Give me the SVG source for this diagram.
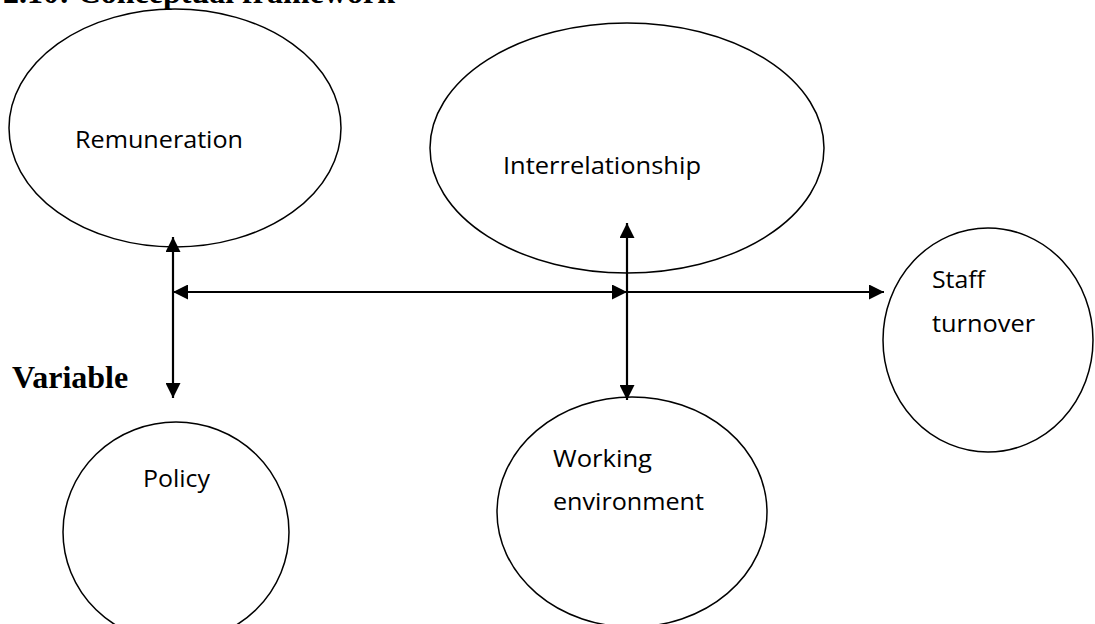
<svg xmlns="http://www.w3.org/2000/svg" width="1095" height="624" viewBox="0 0 1095 624">
<style>
.node{fill:none;stroke:#000;stroke-width:1.5}
.lbl{font-family:"Open Sans","Liberation Sans",Arial,sans-serif;font-size:23px;fill:#000}
.hd{font-family:"Liberation Serif","Times New Roman",serif;font-size:32px;font-weight:bold;fill:#000}
.conn{stroke:#000;stroke-width:2.2;fill:none}
</style>
<defs>
<marker id="ah" viewBox="0 0 10 10" refX="10" refY="5" markerWidth="15" markerHeight="15" markerUnits="userSpaceOnUse" orient="auto-start-reverse">
<path d="M0,0 L10,5 L0,10 Z" fill="#000"/>
</marker>
</defs>
<rect width="1095" height="624" fill="#fff"/>
<text class="hd" x="3" y="3">2.10: Conceptual framework</text>
<text class="hd" x="12" y="388">Variable</text>
<g id="remuneration">
<ellipse class="node" cx="175" cy="128" rx="166" ry="119"/>
<text class="lbl" x="75" y="148" textLength="168" lengthAdjust="spacingAndGlyphs">Remuneration</text>
</g>
<g id="interrelationship">
<ellipse class="node" cx="627" cy="148" rx="197" ry="125"/>
<text class="lbl" x="503" y="174" textLength="198" lengthAdjust="spacingAndGlyphs">Interrelationship</text>
</g>
<g id="staff-turnover">
<ellipse class="node" cx="988" cy="340" rx="105" ry="112"/>
<text class="lbl" x="932" y="288" textLength="53" lengthAdjust="spacingAndGlyphs">Staff</text>
<text class="lbl" x="932" y="332" textLength="103" lengthAdjust="spacingAndGlyphs">turnover</text>
</g>
<g id="policy">
<ellipse class="node" cx="176" cy="532" rx="113" ry="110"/>
<text class="lbl" x="143" y="487" textLength="67" lengthAdjust="spacingAndGlyphs">Policy</text>
</g>
<g id="working-environment">
<ellipse class="node" cx="632" cy="512" rx="135" ry="115"/>
<text class="lbl" x="553" y="467" textLength="99" lengthAdjust="spacingAndGlyphs">Working</text>
<text class="lbl" x="553" y="510" textLength="151" lengthAdjust="spacingAndGlyphs">environment</text>
</g>
<g id="connectors">
<line class="conn" x1="173" y1="237" x2="173" y2="398" marker-start="url(#ah)" marker-end="url(#ah)"/>
<line class="conn" x1="173" y1="292" x2="627" y2="292" marker-start="url(#ah)" marker-end="url(#ah)"/>
<line class="conn" x1="627" y1="223" x2="627" y2="400" marker-start="url(#ah)" marker-end="url(#ah)"/>
<line class="conn" x1="627" y1="292" x2="884" y2="292" marker-end="url(#ah)"/>
</g>
</svg>
